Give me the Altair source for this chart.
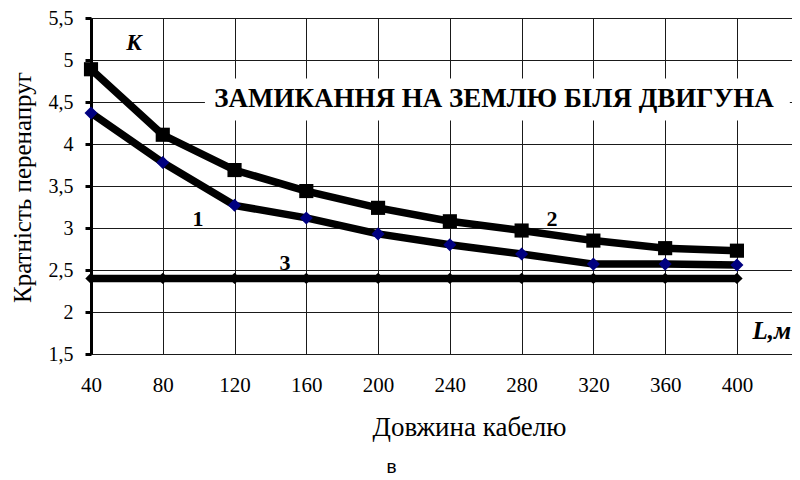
import altair as alt
import pandas as pd

# Data
L = [40, 80, 120, 160, 200, 240, 280, 320, 360, 400]
k1 = [4.37, 3.78, 3.27, 3.12, 2.93, 2.80, 2.69, 2.57, 2.57, 2.56]
k2 = [4.89, 4.11, 3.69, 3.44, 3.24, 3.08, 2.97, 2.85, 2.76, 2.73]
k3 = [2.40, 2.40, 2.40, 2.40, 2.40, 2.40, 2.40, 2.40, 2.40, 2.40]

y_ticks = [1.5, 2.0, 2.5, 3.0, 3.5, 4.0, 4.5, 5.0, 5.5]

title_text = "ЗАМИКАННЯ НА ЗЕМЛЮ БІЛЯ ДВИГУНА"
curve_labels = ["1", "2", "3"]
curve_label_x = [99.6, 296.9, 148.1]
curve_label_y = [3.11, 3.11, 2.58]

df = pd.DataFrame({
    "L": L * 3,
    "K": k1 + k2 + k3,
    "s": ["1"] * len(L) + ["2"] * len(L) + ["3"] * len(L),
})
d1 = df[df.s == "1"]
d2 = df[df.s == "2"]
d3 = df[df.s == "3"]

serif = "Times New Roman, Liberation Serif, serif"

xs = alt.Scale(domain=[40, 430.7], nice=False, zero=False)
ys = alt.Scale(domain=[1.5, 5.5], nice=False, zero=False)

x_axis = alt.Axis(values=L, title="Довжина кабелю", grid=True, gridColor="#1a1a1a",
                  gridWidth=1, gridOpacity=1, domain=False, ticks=False,
                  labelFont=serif, labelFontSize=21, labelColor="black",
                  labelPadding=20, titleFont=serif, titleFontSize=27,
                  titleFontWeight="normal", titleColor="black",
                  titleX=378, titleY=81, titleBaseline="alphabetic", labelFlush=False)
y_axis = alt.Axis(values=y_ticks, title="Кратність перенапруг", grid=True, gridColor="#1a1a1a",
                  gridWidth=1, gridOpacity=1, domain=True, domainColor="black",
                  domainWidth=3, ticks=True, tickColor="black", tickWidth=3, tickSize=6,
                  labelExpr="replace(toString(datum.value), '.', ',')",
                  labelFont=serif, labelFontSize=20, labelColor="black",
                  labelPadding=12, titleFont=serif, titleFontSize=25,
                  titleFontWeight="normal", titleColor="black",
                  titleX=-69, titleY=169, titleBaseline="middle", labelFlush=False)

grid_layer = alt.Chart(d1).mark_line(opacity=0).encode(
    x=alt.X("L:Q", scale=xs, axis=x_axis),
    y=alt.Y("K:Q", scale=ys, axis=y_axis),
)

box_df = pd.DataFrame({"x": [103.5], "x2": [429.5], "y": [4.28], "y2": [4.78]})
box = alt.Chart(box_df).mark_rect(color="white").encode(
    x=alt.X("x:Q", scale=xs), x2="x2", y=alt.Y("y:Q", scale=ys), y2="y2")

lines = alt.Chart(df).mark_line(color="black", strokeWidth=7.5).encode(
    x=alt.X("L:Q", scale=xs), y=alt.Y("K:Q", scale=ys), detail="s:N")

pts2 = alt.Chart(d2).mark_point(shape="square", filled=True, color="black", size=200, opacity=1).encode(
    x=alt.X("L:Q", scale=xs), y=alt.Y("K:Q", scale=ys))
pts1 = alt.Chart(d1).mark_point(shape="diamond", filled=True, color="#000080", size=170, opacity=1).encode(
    x=alt.X("L:Q", scale=xs), y=alt.Y("K:Q", scale=ys))
pts3 = alt.Chart(d3).mark_point(shape="diamond", filled=True, color="black", size=130, opacity=1).encode(
    x=alt.X("L:Q", scale=xs), y=alt.Y("K:Q", scale=ys))

title_df = pd.DataFrame({"x": [264.6], "y": [4.54], "t": [title_text]})
title_mark = alt.Chart(title_df).mark_text(font=serif, fontSize=27, fontWeight="bold",
                                           color="black", baseline="middle").encode(
    x=alt.X("x:Q", scale=xs), y=alt.Y("y:Q", scale=ys), text="t:N")

lab_df = pd.DataFrame({"x": curve_label_x, "y": curve_label_y, "t": curve_labels})
lab_mark = alt.Chart(lab_df).mark_text(font=serif, fontSize=22, fontWeight="bold",
                                       color="black", baseline="middle").encode(
    x=alt.X("x:Q", scale=xs), y=alt.Y("y:Q", scale=ys), text="t:N")

ax_df = pd.DataFrame({"x": [64.0, 419.5], "y": [5.2, 1.77], "t": ["К", "L,м"], "fs": [23, 25]})
ax_mark = alt.Chart(ax_df).mark_text(font=serif, fontWeight="bold", fontStyle="italic",
                                     color="black", baseline="middle").encode(
    x=alt.X("x:Q", scale=xs), y=alt.Y("y:Q", scale=ys), text="t:N",
    size=alt.Size("fs:Q", scale=None, legend=None))

chart = alt.layer(grid_layer, box, lines, pts2, pts1, pts3, title_mark, lab_mark, ax_mark).properties(
    width=701, height=336,
    autosize=alt.AutoSizeParams(type="none"),
    padding={"left": 83, "top": 10, "right": 0, "bottom": 126},
    title=alt.TitleParams(text="в", orient="bottom", font="Liberation Sans, Arial, sans-serif", fontSize=19,
                          fontWeight="normal", color="black", anchor="middle", dx=-50, offset=18),
).configure_view(stroke=None).configure(background="white")

chart.save("out.html", embed_options={"renderer": "svg", "actions": False})
